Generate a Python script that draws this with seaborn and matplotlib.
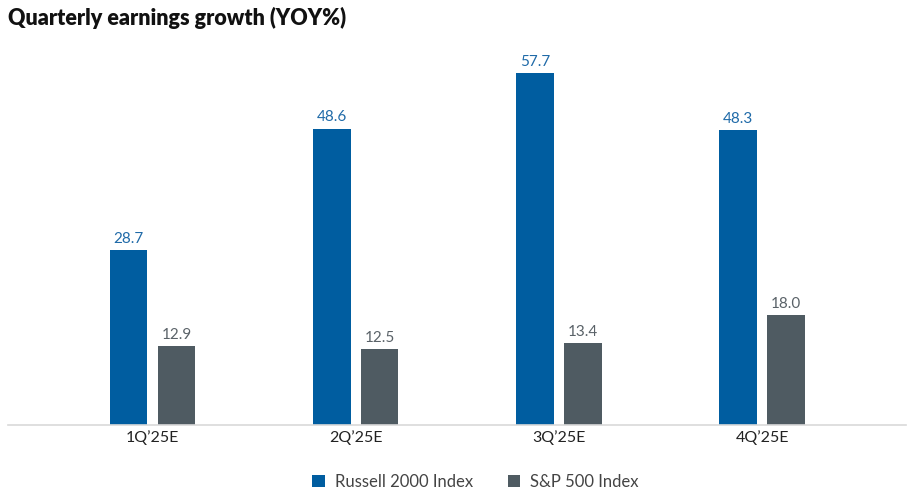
import matplotlib
matplotlib.use("Agg")
import matplotlib.pyplot as plt
import seaborn as sns
import pandas as pd
from matplotlib.patches import Patch

quarters = ["1Q\u201925E", "2Q\u201925E", "3Q\u201925E", "4Q\u201925E"]
russell = [28.7, 48.6, 57.7, 48.3]
sp500 = [12.9, 12.5, 13.4, 18.0]
series = ["Russell 2000 Index", "S&P 500 Index"]
colors = ["#005DA0", "#4F5B62"]
label_colors = ["#1F6AA8", "#5A6268"]

df = pd.DataFrame({
    "quarter": quarters * 2,
    "value": russell + sp500,
    "series": [series[0]] * 4 + [series[1]] * 4,
})

sns.set_theme(style="white")
plt.rcParams["font.family"] = ["Lato", "DejaVu Sans"]

fig = plt.figure(figsize=(9.16, 5.0), dpi=100)
ax = fig.add_axes([8 / 916, 75 / 500, 898 / 916, 385 / 500])

sns.barplot(data=df, x="quarter", y="value", hue="series", palette=colors,
            width=0.472, gap=0.22, ax=ax, legend=False, saturation=1,
            linewidth=0)

for cont, lc in zip(ax.containers, label_colors):
    ax.bar_label(cont, fmt="%.1f", padding=3, color=lc, fontsize=11)

ax.set_xlim(-0.712, 3.708)
ax.set_ylim(0, 385 / 6.1)
ax.set_xlabel("")
ax.set_ylabel("")
ax.set_yticks([])
ax.tick_params(axis="x", length=0, labelsize=11.5, labelcolor="#222222", pad=4)
for s in ["top", "left", "right"]:
    ax.spines[s].set_visible(False)
ax.spines["bottom"].set_color("#D9D9D9")
ax.spines["bottom"].set_linewidth(1.2)

fig.text(8 / 916, 1 - 18 / 500, "Quarterly earnings growth (YOY%)",
         fontsize=15.5, fontweight="heavy", color="#111111", va="center", ha="left")

handles = [Patch(facecolor=c, edgecolor="none") for c in colors]
fig.legend(handles, series, loc="center", bbox_to_anchor=(0.519, 1 - 482 / 500),
           ncol=2, frameon=False, fontsize=12, handlelength=0.75, handleheight=0.75,
           columnspacing=2.1, handletextpad=0.6, labelcolor="#444444")

fig.savefig("out.png", dpi=100)
